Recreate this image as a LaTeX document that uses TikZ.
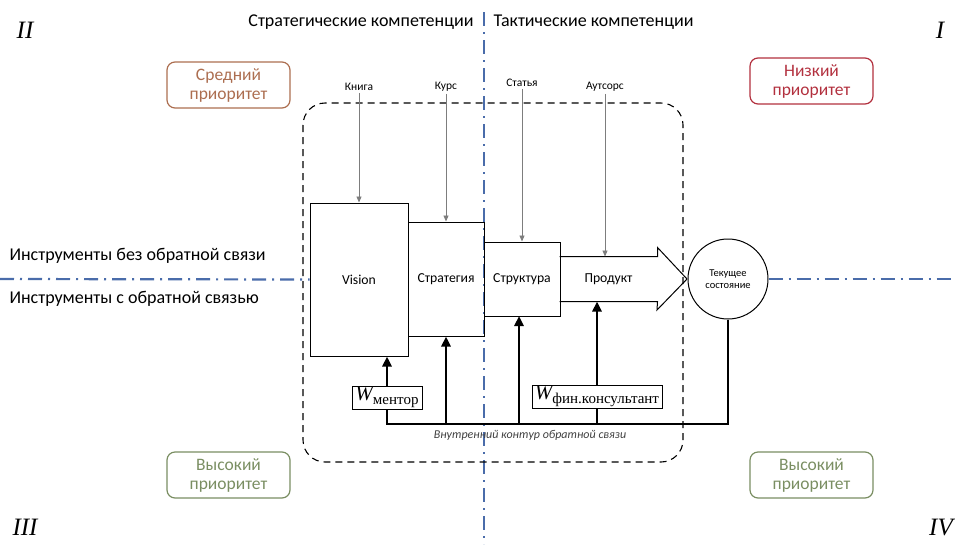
\documentclass[tikz,border=0pt]{standalone}
\usepackage{fontspec}
\setmainfont{Carlito}
\newfontfamily\cyrserif{Liberation Serif}
\usetikzlibrary{arrows.meta, positioning, calc}
\definecolor{axisblue}{RGB}{74, 108, 170}
\definecolor{midcolor}{RGB}{172, 110, 80}
\definecolor{lowcolor}{RGB}{178, 48, 62}
\definecolor{highcolor}{RGB}{122, 142, 98}
\definecolor{inputgray}{RGB}{125, 125, 125}
\newcommand{\wlabel}[1]{{\cyrserif\fontsize{21}{21}\selectfont\itshape W}{\cyrserif\fontsize{15}{15}\selectfont\raisebox{-4pt}{#1}}}

\begin{document}
\begin{tikzpicture}[
    x=1pt, y=-1pt,
    axis/.style={axisblue, line width=2.2pt, dash pattern=on 14pt off 6pt on 2pt off 6pt},
    frame/.style={draw, line width=1.1pt, dash pattern=on 7pt off 5pt, rounded corners=22pt},
    block/.style={draw, line width=1pt, inner sep=0pt, font=\fontsize{13.7}{16}\selectfont},
    prio/.style={draw, rounded corners=8pt, line width=1.2pt, minimum width=123pt, minimum height=46pt, align=center, font=\fontsize{17.5}{19}\selectfont},
    heading/.style={font=\fontsize{18}{21}\selectfont},
    quadrant/.style={font=\cyrserif\itshape\fontsize{25}{25}\selectfont},
    input_label/.style={font=\fontsize{11.5}{13}\selectfont, inner sep=2pt},
    input_arrow/.style={-{Triangle[length=6pt, width=5pt]}, inputgray, line width=0.9pt},
    feedback/.style={line width=2.6pt},
    feedback_arrow/.style={feedback, -{Triangle[length=10pt, width=9pt]}},
    weight/.style={draw, fill=white, line width=1pt, inner sep=0pt}
]
    % Bounding box
    \useasboundingbox (0,0) rectangle (955,544);

    % Axes
    \draw[axis] (484,12) -- (484,544);

    % Quadrant numbers
    \node[quadrant] (q2) at (25,30) {II};
    \node[quadrant] (q1) at (940,30) {I};
    \node[quadrant] (q3) at (25,527) {III};
    \node[quadrant] (q4) at (941,527) {IV};

    % Headings
    \node[heading, anchor=east] (strat_comp) at (477,22) {Стратегические компетенции};
    \node[heading, anchor=west] (tact_comp) at (490,22) {Тактические компетенции};
    \node[heading, anchor=west] (no_fb) at (6,256) {Инструменты без обратной связи};
    \node[heading, anchor=west] (with_fb) at (6,299) {Инструменты с обратной связью};

    % Priority boxes
    \node[prio, midcolor] (mid_prio) at (228.5,85) {Средний\\приоритет};
    \node[prio, lowcolor] (low_prio) at (811.5,81) {Низкий\\приоритет};
    \node[prio, highcolor] (high_left) at (228.5,475) {Высокий\\приоритет};
    \node[prio, highcolor] (high_right) at (811.5,475) {Высокий\\приоритет};

    % Dashed contour
    \draw[frame] (303,103) rectangle (683,462);

    % Blocks
    \node[block, minimum width=98pt, minimum height=153pt] (vision) at (359,279.5) {Vision};
    \node[block, minimum width=76pt, minimum height=114pt] (strat) at (446,279) {Стратегия};
    \node[block, minimum width=76pt, minimum height=74pt] (struct) at (522,279) {Структура};
    \node[block, draw=none, minimum width=97pt, minimum height=44pt] (product) at (608.5,279) {Продукт};
    \draw[line width=1pt] (product.north west) -- (product.north east) -- ++(0,-9)
        -- (687,279) -- (657,310) -- (product.south east) -- (product.south west);
    \node[circle, draw, line width=1pt, minimum size=80pt, align=center, font=\fontsize{10.5}{12.5}\selectfont] (state) at (728,279) {Текущее\\состояние};

    \draw[axis] (0,279) -- (vision.west);
    \draw[axis] (state.east) -- (955,279);

    % Inputs
    \node[input_label] (book) at (359,87) {Книга};
    \node[input_label] (course) at (446,87) {Курс};
    \node[input_label] (article) at (522,83) {Статья};
    \node[input_label] (outsource) at (605,87) {Аутсорс};
    \draw[input_arrow] (book) -- (book |- vision.north);
    \draw[input_arrow] (course) -- (course |- strat.north);
    \draw[input_arrow] (article) -- (article |- struct.north);
    \draw[input_arrow] (outsource) -- (outsource |- product.north);

    % Feedback loop
    \node[weight, minimum width=70pt, minimum height=23pt] (w_mentor) at (387,397.5) {\wlabel{ментор}};
    \node[weight, minimum width=130pt, minimum height=23pt] (w_fin) at (597,396.5) {\wlabel{фин.консультант}};
    \coordinate (loop_left) at (387,424);
    \coordinate (loop_right) at (728,424);
    \draw[feedback] (state.south) -- (loop_right) -- (loop_left) -- (w_mentor.south);
    \draw[feedback_arrow] (w_mentor.north) -- (w_mentor.north |- vision.south);
    \draw[feedback_arrow] (strat.south |- loop_left) -- (strat.south);
    \draw[feedback_arrow] (519,424) -- (519,316);
    \draw[feedback] (w_fin.south |- loop_left) -- (w_fin.south);
    \draw[feedback_arrow] (w_fin.north) -- (w_fin.north |- product.south);
    \node[font=\itshape\fontsize{12}{14}\selectfont, text=black!75] (loop_label) at (530,435) {Внутренний контур обратной связи};
\end{tikzpicture}
\end{document}
